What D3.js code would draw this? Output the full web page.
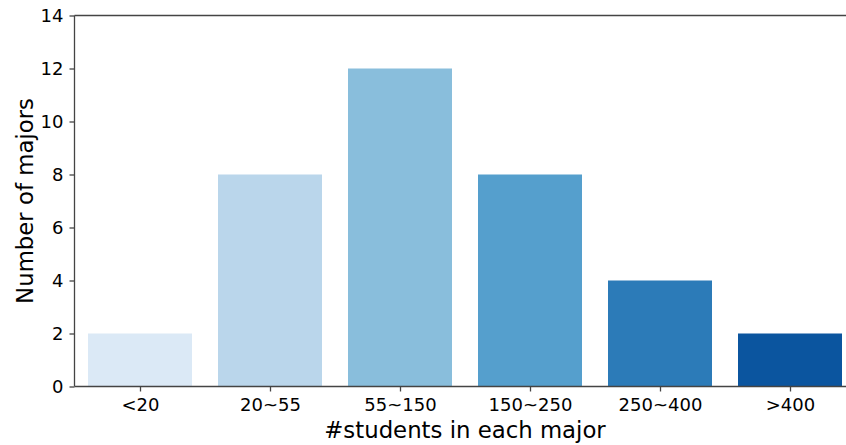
<!DOCTYPE html>
<html><head><meta charset="utf-8">
<script src="https://cdn.jsdelivr.net/npm/d3@7"></script>
<style>body{margin:0;background:#fff}svg{display:block}text{font-family:"DejaVu Sans",sans-serif}</style>
</head><body>
<svg id="c" width="846" height="445"></svg>
<script>
const categories = ["<20","20~55","55~150","150~250","250~400",">400"];
const values = [2, 8, 12, 8, 4, 2];
const colors = ["#dbe9f6","#bad6eb","#89bedc","#559fcd","#2c7bb8","#0b559f"];
const yTicks = [0,2,4,6,8,10,12,14];

(function(){
const svg = d3.select("#c");
const mLeft = 74.5, mTop = 15.5, mBottom = 386.5;
const x = d3.scaleLinear().domain([-0.5, 5.5]).range([75, 855]);
const y = d3.scaleLinear().domain([0, 14]).range([mBottom, mTop]);
const bw = 0.8;
const axisColor = "#444";
const tickFont = 18, labelFont = 22.8;

svg.selectAll("rect.bar").data(values).join("rect")
  .attr("class","bar")
  .attr("x",(d,i)=>x(i-bw/2))
  .attr("width",(d,i)=>x(i+bw/2)-x(i-bw/2))
  .attr("y",d=>y(d))
  .attr("height",d=>y(0)-y(d))
  .attr("fill",(d,i)=>colors[i]);

svg.append("line").attr("x1",mLeft).attr("x2",mLeft).attr("y1",mTop).attr("y2",mBottom).attr("stroke",axisColor).attr("stroke-width",1.3);
svg.append("line").attr("x1",mLeft).attr("x2",846).attr("y1",mTop).attr("y2",mTop).attr("stroke",axisColor).attr("stroke-width",1.3);
svg.append("line").attr("x1",mLeft).attr("x2",846).attr("y1",mBottom).attr("y2",mBottom).attr("stroke",axisColor).attr("stroke-width",1.3);

const yAxis = d3.axisLeft(y).tickValues(yTicks).tickSize(5).tickPadding(6).tickFormat(d3.format("d"));
const gy = svg.append("g").attr("transform",`translate(${mLeft},0)`).call(yAxis);
gy.select(".domain").remove();
gy.selectAll(".tick line").attr("stroke",axisColor).attr("stroke-width",1.3);
gy.selectAll(".tick text").attr("font-size",tickFont).attr("fill","#000").attr("font-family","DejaVu Sans");

const xAxis = d3.axisBottom(x).tickValues(d3.range(categories.length)).tickSize(5).tickPadding(7).tickFormat(i=>categories[i]);
const gx = svg.append("g").attr("transform",`translate(0,${mBottom})`).call(xAxis);
gx.select(".domain").remove();
gx.selectAll(".tick line").attr("stroke",axisColor).attr("stroke-width",1.3);
gx.selectAll(".tick text").attr("font-size",tickFont).attr("fill","#000").attr("font-family","DejaVu Sans");

svg.append("text").attr("x",465).attr("y",437.5).attr("text-anchor","middle").attr("font-size",labelFont).text("#students in each major");
svg.append("text").attr("transform",`translate(32.5,${(mTop+mBottom)/2}) rotate(-90)`).attr("text-anchor","middle").attr("font-size",labelFont).text("Number of majors");
})();
</script>
</body></html>
